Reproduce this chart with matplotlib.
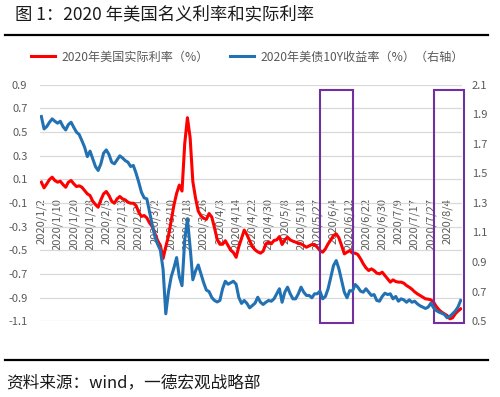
import matplotlib
matplotlib.use("Agg")
import matplotlib.pyplot as plt
from matplotlib.lines import Line2D
from matplotlib.patches import Rectangle
import pandas as pd

plt.rcParams['font.family'] = ['Noto Sans CJK SC', 'DejaVu Sans']

# trading days (US market holidays 4/10, 5/25, 7/3 missing from the series)
dates = pd.bdate_range("2020-01-02", "2020-08-11")
dates = dates.drop(pd.to_datetime(["2020-04-10", "2020-05-25", "2020-07-03"]))

# 2020 US real rate (%), left axis
real_rate = [
    0.075, 0.027, 0.061, 0.097, 0.117, 0.089, 0.075, 0.083, 0.055, 0.032,
    0.075, 0.089, 0.061, 0.038, 0.044, 0.032, 0.004, -0.024, -0.038, -0.086,
    -0.114, -0.137, -0.075, -0.024, -0.004, -0.038, -0.086, -0.103, -0.066, -0.046,
    -0.066, -0.075, -0.094, -0.103, -0.103, -0.123, -0.179, -0.215, -0.207, -0.227,
    -0.27, -0.30, -0.36, -0.42, -0.46, -0.57, -0.47, -0.38, -0.25, -0.12,
    -0.02, 0.05, 0.00, 0.40, 0.62, 0.45, 0.08, -0.06, -0.17, -0.21,
    -0.23, -0.24, -0.19, -0.22, -0.31, -0.41, -0.45, -0.45, -0.42, -0.46,
    -0.50, -0.52, -0.56, -0.47, -0.40, -0.33, -0.37, -0.42, -0.469, -0.497,
    -0.514, -0.525, -0.508, -0.446, -0.432, -0.446, -0.418, -0.413, -0.385, -0.452,
    -0.413, -0.39, -0.413, -0.424, -0.432, -0.441, -0.446, -0.461, -0.475, -0.463,
    -0.452, -0.452, -0.475, -0.503, -0.517, -0.489, -0.446, -0.413, -0.376, -0.362,
    -0.396, -0.461, -0.531, -0.517, -0.503, -0.525, -0.525, -0.537, -0.573, -0.615,
    -0.649, -0.672, -0.658, -0.672, -0.694, -0.70, -0.686, -0.714, -0.742, -0.77,
    -0.751, -0.765, -0.77, -0.77, -0.779, -0.799, -0.813, -0.83, -0.852, -0.869,
    -0.883, -0.897, -0.911, -0.914, -0.92, -0.939, -0.976, -1.004, -1.024, -1.038,
    -1.052, -1.08, -1.072, -1.038, -1.015, -0.996,
]

# 2020 US 10Y treasury yield (%), right axis
yield_10y = [
    1.884, 1.80, 1.816, 1.845, 1.868, 1.852, 1.839, 1.852, 1.816, 1.793,
    1.83, 1.845, 1.81, 1.778, 1.762, 1.72, 1.676, 1.613, 1.65, 1.597,
    1.546, 1.519, 1.564, 1.636, 1.658, 1.627, 1.575, 1.564, 1.591, 1.618,
    1.604, 1.586, 1.575, 1.546, 1.553, 1.501, 1.44, 1.372, 1.334, 1.327,
    1.24, 1.15, 1.07, 1.02, 0.98, 0.85, 0.55, 0.70, 0.80, 0.86,
    0.93, 0.80, 0.74, 1.05, 1.19, 1.00, 0.78, 0.84, 0.88, 0.82,
    0.76, 0.71, 0.70, 0.66, 0.64, 0.63, 0.64, 0.72, 0.77, 0.75,
    0.76, 0.77, 0.75, 0.66, 0.62, 0.64, 0.62, 0.59, 0.606, 0.622,
    0.662, 0.628, 0.613, 0.628, 0.64, 0.635, 0.651, 0.685, 0.719, 0.628,
    0.696, 0.73, 0.685, 0.651, 0.651, 0.685, 0.73, 0.696, 0.674, 0.674,
    0.658, 0.685, 0.685, 0.703, 0.651, 0.667, 0.719, 0.798, 0.876, 0.91,
    0.854, 0.775, 0.696, 0.658, 0.707, 0.703, 0.748, 0.73, 0.703, 0.696,
    0.719, 0.696, 0.674, 0.68, 0.64, 0.635, 0.667, 0.689, 0.68, 0.685,
    0.651, 0.667, 0.635, 0.651, 0.644, 0.628, 0.644, 0.628, 0.635, 0.617,
    0.604, 0.595, 0.586, 0.595, 0.622, 0.59, 0.572, 0.561, 0.554, 0.545,
    0.523, 0.532, 0.55, 0.568, 0.595, 0.64,
]

left_ticks = [-1.1, -0.9, -0.7, -0.5, -0.3, -0.1, 0.1, 0.3, 0.5, 0.7, 0.9]
right_ticks = [0.5, 0.7, 0.9, 1.1, 1.3, 1.5, 1.7, 1.9, 2.1]
highlights = [("2020-05-28", "2020-06-12"), ("2020-07-28", "2020-08-11")]

labels = [f"{d.year}/{d.month}/{d.day}" for d in dates]
x = list(range(len(dates)))

fig = plt.figure(figsize=(5, 3.97), dpi=100)
ax = fig.add_axes([0.08, 0.191, 0.844, 0.596])
ax2 = ax.twinx()

# date labels hang from the zero line of the left axis
ax.spines['bottom'].set_position(('data', 0))

red = "#FF0000"
blue = "#2271B3"
grey = "#595959"

ax.plot(x, real_rate, color=red, lw=2.2, zorder=3)
ax2.plot(x, yield_10y, color=blue, lw=2.2, zorder=3)

ax.set_xlim(-0.5, len(x) - 0.5)
ax.set_ylim(-1.1, 0.9)
ax2.set_ylim(0.5, 2.1)

ax.set_yticks(left_ticks)
ax.set_yticklabels([f"{v:.1f}" for v in left_ticks])
ax2.set_yticks(right_ticks)
ax2.set_yticklabels([f"{v:.1f}" for v in right_ticks])

ax.set_xticks(x[::6])
ax.set_xticklabels(labels[::6], rotation=90)

for a in (ax, ax2):
    for s in a.spines.values():
        s.set_visible(False)
    a.tick_params(length=0, labelsize=8, labelcolor=grey)
ax.tick_params(axis='y', pad=9)
ax2.tick_params(axis='y', pad=7)
ax.tick_params(axis='x', pad=5, labelrotation=90)

ax.yaxis.grid(True, color="#D9D9D9", lw=0.9)
ax.set_axisbelow(True)

# purple highlight boxes
for start, end in highlights:
    i0 = dates.get_loc(pd.Timestamp(start))
    i1 = dates.get_loc(pd.Timestamp(end))
    ax.add_patch(Rectangle((i0, -1.114), i1 - i0 + 1.3, 1.97, fill=False,
                           edgecolor="#7030A0", lw=1.5, clip_on=False, zorder=5))

handles = [Line2D([], [], color=red, lw=2.2), Line2D([], [], color=blue, lw=2.2)]
leg = fig.legend(handles, ["2020年美国实际利率（%）", "2020年美债10Y收益率（%）（右轴）"],
                 loc="center", bbox_to_anchor=(0.495, 1 - 57 / 397), ncol=2, frameon=False,
                 fontsize=8.7, handlelength=2.0, handletextpad=0.5, columnspacing=1.8)
for t in leg.get_texts():
    t.set_color(grey)

fig.text(15 / 500, 1 - 14 / 397, "图 1：2020 年美国名义利率和实际利率", fontsize=12.5,
         va="center", ha="left", color="#1A1A1A")
fig.add_artist(Line2D([5 / 500, 488 / 500], [1 - 35 / 397] * 2, color="black", lw=1.6))
fig.add_artist(Line2D([5 / 500, 488 / 500], [1 - 360 / 397] * 2, color="black", lw=1.6))
fig.text(6 / 500, 1 - 383 / 397, "资料来源：wind，一德宏观战略部", fontsize=12,
         va="center", ha="left", color="#1A1A1A")

fig.savefig("out.png", dpi=100)
